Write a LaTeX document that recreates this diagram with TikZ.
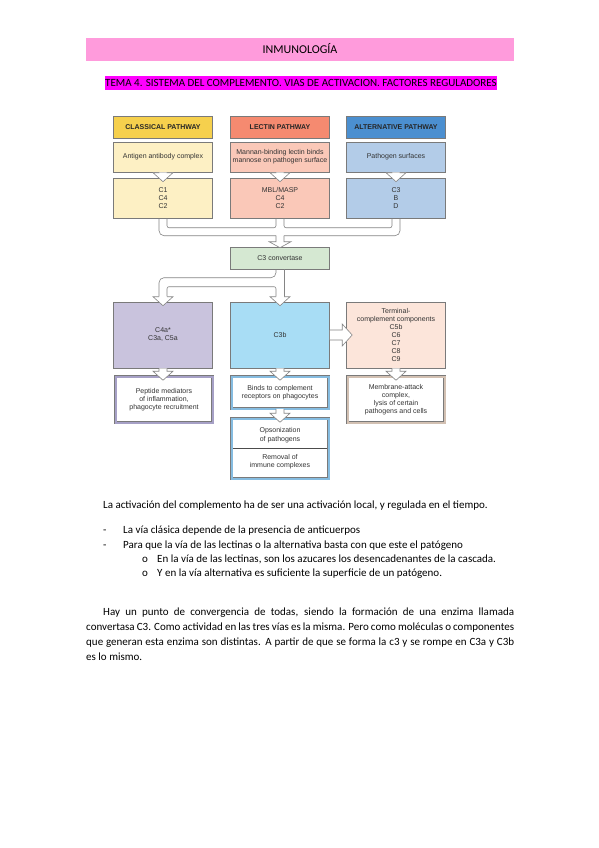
\documentclass[tikz,border=0pt]{standalone}
\usepackage{fontspec}
\setmainfont{Carlito}
\newfontfamily\diag{Liberation Sans}
\usetikzlibrary{calc}
\definecolor{hpink}{HTML}{FF9BDC}
\definecolor{hmag}{HTML}{FF00FF}
\definecolor{boxline}{HTML}{7A7A7A}
\definecolor{arrline}{HTML}{858585}
\definecolor{txt}{HTML}{333333}
\definecolor{clsH}{HTML}{F6D04D}
\definecolor{clsB}{HTML}{FDF0C4}
\definecolor{lecH}{HTML}{F58A70}
\definecolor{lecB}{HTML}{FAC8B8}
\definecolor{altH}{HTML}{4B8FD0}
\definecolor{altB}{HTML}{B3CCE8}
\definecolor{convC}{HTML}{D5E8D2}
\definecolor{purC}{HTML}{C9C3DD}
\definecolor{bluC}{HTML}{A8DDF5}
\definecolor{peaC}{HTML}{FCE5DA}
\definecolor{purBand}{HTML}{A6A0C6}
\definecolor{bluBand}{HTML}{86BCE0}
\definecolor{peaBand}{HTML}{D2C0B2}
\newcommand{\harrowdown}[2]{%
  \draw[harrow] let \p1=(#1.south), \p2=(#2.north) in
    (\x1-4pt,\y1) -- (\x1-4pt,\y2+5pt) -- (\x1-10pt,\y2+5pt) -- (\x1,\y2-4pt)
    -- (\x1+10pt,\y2+5pt) -- (\x1+4pt,\y2+5pt) -- (\x1+4pt,\y1);}
\begin{document}
\begin{tikzpicture}[x=1pt,y=-1pt,
  box/.style={draw=boxline, line width=0.6pt, minimum width=99pt, align=center,
    font=\diag\fontsize{7}{8}\selectfont, text=txt, inner sep=1pt},
  hbox/.style={box, minimum height=22pt, font=\diag\bfseries\fontsize{7}{8}\selectfont, text=black!85},
  dbl/.style={draw=boxline, double=#1, double distance=2pt, line width=0.5pt, fill=white,
    minimum width=97pt, align=center, font=\diag\fontsize{7}{8}\selectfont, text=txt, inner sep=1pt},
  harrow/.style={draw=arrline, fill=white, line width=0.6pt, line join=miter},
  mline/.style={draw=arrline, line width=0.6pt},
  body/.style={anchor=base west, inner sep=0pt, font=\fontsize{11}{13}\selectfont},
  plain/.style={align=center, font=\diag\fontsize{7}{8.5}\selectfont, text=txt, inner sep=0pt}
]
\fill[white] (0,0) rectangle (599,848);
\useasboundingbox (0,0) rectangle (599,848);

% page header
\node[fill=hpink, minimum width=428pt, minimum height=23pt, inner sep=0pt,
  text height=7.7pt, text depth=0pt, font=\fontsize{12}{14}\selectfont] (hdr) at (300,49.5) {INMUNOLOGÍA};
\node[fill=hmag, minimum height=14pt, inner xsep=0.5pt, inner ysep=0pt,
  text height=7.1pt, text depth=0pt, font=\fontsize{11}{13}\selectfont] (sub) at (301,83)
  {TEMA 4. SISTEMA DEL COMPLEMENTO. VIAS DE ACTIVACION. FACTORES REGULADORES};

% row 1: pathway headers
\node[hbox, fill=clsH] (h1) at (163,127) {CLASSICAL PATHWAY};
\node[hbox, fill=lecH] (h2) at (280,127) {LECTIN PATHWAY};
\node[hbox, fill=altH] (h3) at (396,127) {ALTERNATIVE PATHWAY};
% row 2
\node[box, fill=clsB, minimum height=30pt] (s1) at (163,157) {Antigen antibody complex};
\node[box, fill=lecB, minimum height=30pt] (s2) at (280,157) {Mannan-binding lectin binds\\mannose on pathogen surface};
\node[box, fill=altB, minimum height=30pt] (s3) at (396,157) {Pathogen surfaces};
% row 3
\node[box, fill=clsB, minimum height=40pt] (c1) at (163,198) {C1\\C4\\C2};
\node[box, fill=lecB, minimum height=40pt] (c2) at (280,198) {MBL/MASP\\C4\\C2};
\node[box, fill=altB, minimum height=40pt] (c3) at (396,198) {C3\\B\\D};
% convertase
\node[box, fill=convC, minimum height=22pt] (conv) at (280,258) {C3 convertase};
% row 4
\node[box, fill=purC, minimum height=66pt] (r1) at (163,335) {C4a*\\C3a, C5a};
\node[box, fill=bluC, minimum height=66pt] (r2) at (280,335) {C3b};
\node[box, fill=peaC, minimum height=66pt] (r3) at (396,335)
  {Terminal-\\complement components\\C5b\\C6\\C7\\C8\\C9};
% row 5
\node[dbl=purBand, minimum height=46pt] (e1) at (164,399.5) {Peptide mediators\\of inflammation,\\phagocyte recruitment};
\node[dbl=bluBand, minimum height=32pt] (e2) at (280,392.5) {Binds to complement\\receptors on phagocytes};
\node[dbl=peaBand, minimum height=46pt] (e3) at (396,399.5) {Membrane-attack\\complex,\\lysis of certain\\pathogens and cells};
\node[dbl=bluBand, minimum height=60pt] (e4) at (280,448.5) {};
\draw[draw=black!70, line width=0.5pt, shorten <=1.5pt, shorten >=1.5pt] (e4.west) -- (e4.east);
\node[plain] (e4a) at (280,435) {Opsonization\\of pathogens};
\node[plain] (e4b) at (280,461.5) {Removal of\\immune complexes};

% arrows rows 2 -> 3
\harrowdown{s1}{c1}
\harrowdown{s2}{c2}
\harrowdown{s3}{c3}

% merge into C3 convertase
\draw[mline] let \p1=(c1.south), \p2=(c2.south), \p4=(conv.north) in
  (\x1-4pt,\y1) [rounded corners=5pt] -- (\x1-4pt,\y4+11pt) -- (\x2-4pt,\y4+11pt);
\draw[mline] let \p3=(c3.south), \p2=(c2.south), \p4=(conv.north) in
  (\x3+4pt,\y3) [rounded corners=5pt] -- (\x3+4pt,\y4+11pt) -- (\x2+4pt,\y4+11pt);
\draw[mline] let \p1=(c1.south), \p2=(c2.south), \p4=(conv.north) in
  (\x1+4pt,\y1) [rounded corners=2pt] -- (\x1+4pt,\y4+19pt) -- (\x2-4pt,\y4+19pt) -- (\x2-4pt,\y2);
\draw[mline] let \p3=(c3.south), \p2=(c2.south), \p4=(conv.north) in
  (\x3-4pt,\y3) [rounded corners=2pt] -- (\x3-4pt,\y4+19pt) -- (\x2+4pt,\y4+19pt) -- (\x2+4pt,\y2);
\draw[harrow] let \p2=(c2.south), \p4=(conv.north) in
  (\x2-4pt,\y4+11pt) -- (\x2-4pt,\y4+5pt) -- (\x2-11pt,\y4+5pt) -- (\x2,\y4-1pt)
  -- (\x2+11pt,\y4+5pt) -- (\x2+4pt,\y4+5pt) -- (\x2+4pt,\y4+11pt);

% split below C3 convertase
\draw[mline] let \p5=(conv.south), \p1=(r1.north) in
  (\x5-4pt,\y5) [rounded corners=5pt] -- (\x5-4pt,\y1+24pt) -- (\x1-4pt,\y1+24pt) -- (\x1-4pt,\y1+5pt);
\draw[mline] let \p5=(conv.south), \p1=(r1.north) in
  (\x1+4pt,\y1+5pt) [rounded corners=2pt] -- (\x1+4pt,\y1+15pt) -- (\x5-4pt,\y1+15pt) -- (\x5-4pt,\y1+5pt);
\draw[mline] let \p5=(conv.south), \p1=(r1.north) in
  (\x5+4pt,\y5) -- (\x5+4pt,\y1+5pt);
\draw[harrow] let \p1=(r1.north) in
  (\x1-4pt,\y1+5pt) -- (\x1-10pt,\y1+5pt) -- (\x1,\y1-4pt) -- (\x1+10pt,\y1+5pt) -- (\x1+4pt,\y1+5pt);
\draw[harrow] let \p2=(r2.north) in
  (\x2-4pt,\y2+5pt) -- (\x2-10pt,\y2+5pt) -- (\x2,\y2-4pt) -- (\x2+10pt,\y2+5pt) -- (\x2+4pt,\y2+5pt);

% C3b -> terminal components
\draw[harrow] let \p1=(r2.east), \p2=(r3.west) in
  (\x1,\y1+5pt) -- (\x2-4pt,\y1+5pt) -- (\x2-4pt,\y1+11pt) -- (\x2+6pt,\y1)
  -- (\x2-4pt,\y1-11pt) -- (\x2-4pt,\y1-5pt) -- (\x1,\y1-5pt);

% rows 4 -> 5
\harrowdown{r1}{e1}
\harrowdown{r2}{e2}
\harrowdown{r3}{e3}
\harrowdown{e2}{e4}

% text below
\node[body] (t1) at (103,508) {La activación del complemento ha de ser una activación local, y regulada en el tiempo.};
\node[body] (d1) at (103,533) {-};
\node[body] (b1) at (123,533) {La vía clásica depende de la presencia de anticuerpos};
\node[body] (d2) at (103,548) {-};
\node[body] (b2) at (123,548) {Para que la vía de las lectinas o la alternativa basta con que este el patógeno};
\node[body] (o1) at (142,562) {o};
\node[body] (b3) at (157,562) {En la vía de las lectinas, son los azucares los desencadenantes de la cascada.};
\node[body] (o2) at (142,576) {o};
\node[body] (b4) at (157,576) {Y en la vía alternativa es suficiente la superficie de un patógeno.};

\node[body] (p1) at (103,615) {\makebox[411pt][s]{Hay un punto de convergencia de todas, siendo la formación de una enzima llamada}};
\node[body] (p2) at (86,630) {\makebox[428pt][s]{convertasa C3. Como actividad en las tres vías es la misma. Pero como moléculas o componentes}};
\node[body] (p3) at (86,645) {\makebox[428pt][s]{que generan esta enzima son distintas. A partir de que se forma la c3 y se rompe en C3a y C3b}};
\node[body] (p4) at (86,660) {es lo mismo.};
\end{tikzpicture}
\end{document}
